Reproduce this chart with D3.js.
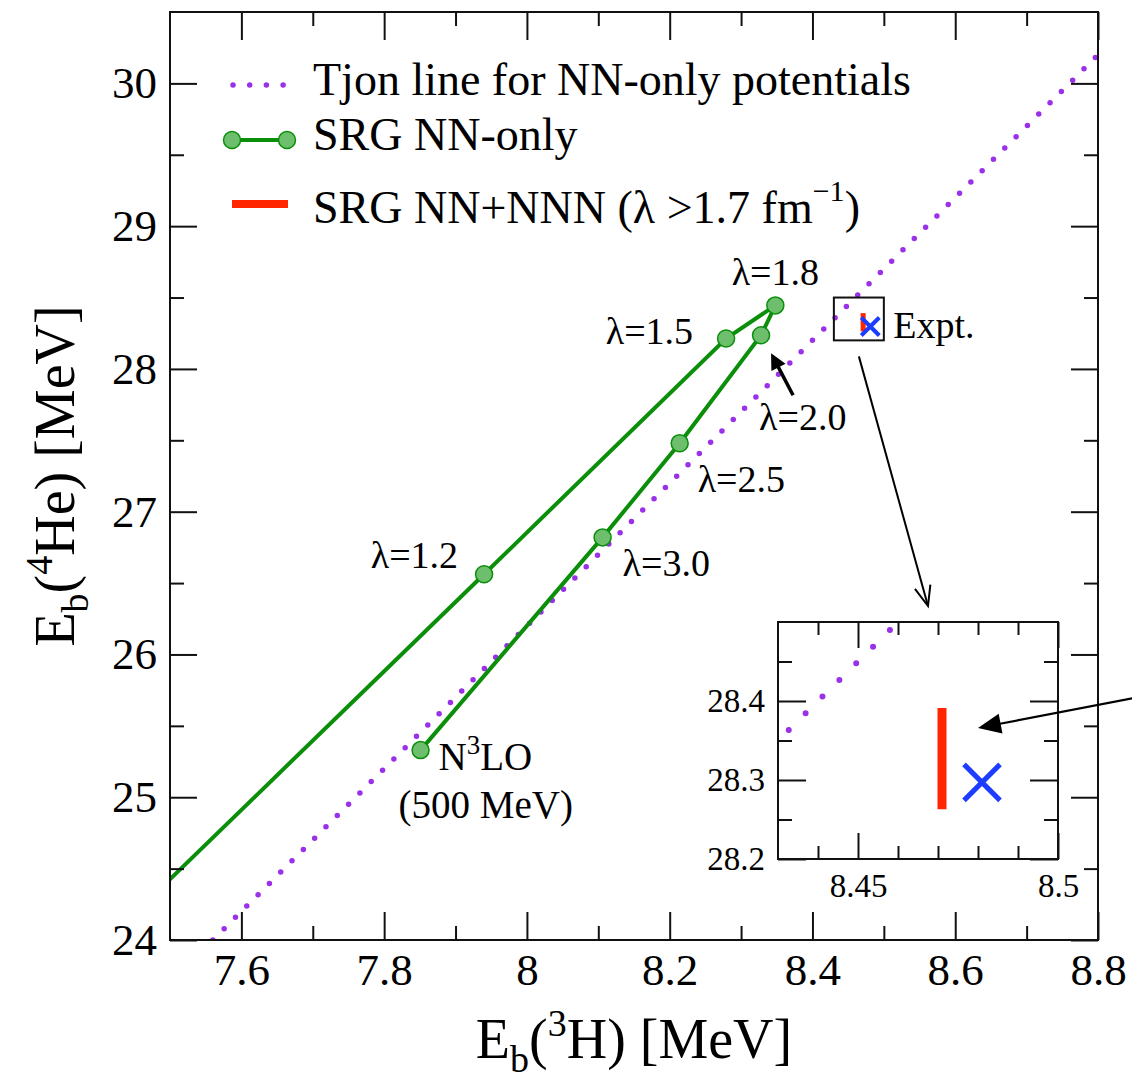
<!DOCTYPE html>
<html>
<head>
<meta charset="utf-8">
<script src="https://cdn.jsdelivr.net/npm/d3@7"></script>
<style>
  body { margin: 0; background: #fff; }
  svg { display: block; }
  text { font-family: "Liberation Serif", "Times New Roman", Times, serif; fill: #000; }
</style>
</head>
<body>
<svg id="chart" width="1132" height="1080"></svg>
<script>
// Binding energies of 3H and 4He for SRG-evolved N3LO (500 MeV) potentials.

// SRG NN-only trajectory, ordered by decreasing lambda (fm^-1)
const srgLambda = ["N3LO", "3.0", "2.5", "2.0", "1.8", "1.5", "1.2", "1.0"];
const srgEbH3   = [7.851, 8.106, 8.214, 8.328, 8.348, 8.279, 7.940, 7.400];
const srgEbHe4  = [25.330, 26.820, 27.480, 28.236, 28.445, 28.213, 26.562, 23.940];

// Tjon line for NN-only potentials
const tjonEbH3  = [7.56, 8.80];
const tjonEbHe4 = [24.00, 30.20];

// SRG NN+NNN band (lambda > 1.7 fm^-1)
const nnnEbH3 = [8.471];
const nnnEbHe4Range = [28.263, 28.391];

// Experiment
const exptEbH3  = [8.481];
const exptEbHe4 = [28.297];

// Axis ticks
const xMajorTicks = [7.6, 7.8, 8.0, 8.2, 8.4, 8.6, 8.8];
const xMinorTicks = [7.7, 7.9, 8.1, 8.3, 8.5, 8.7];
const yMajorTicks = [24, 25, 26, 27, 28, 29, 30];
const yMinorTicks = [24.5, 25.5, 26.5, 27.5, 28.5, 29.5];
const insetXMajorTicks = [8.45, 8.5];
const insetXMinorTicks = [8.44, 8.46, 8.47, 8.48, 8.49];
const insetYMajorTicks = [28.2, 28.3, 28.4];
const insetYMinorTicks = [28.25, 28.35, 28.45];

// ---- styling / layout ----
const FONT = "'Liberation Serif', 'Times New Roman', Times, serif";
const C = {
  green: "#0b8f0b", greenFill: "#6dbf6d",
  purple: "#9a30e8", red: "#ff2600", blue: "#1c3cff"
};
const svg = d3.select("#chart");
const plot = { left: 170, top: 12, right: 1098, bottom: 940 };
const inset = { left: 778, top: 622, right: 1058, bottom: 859 };

const x = d3.scaleLinear([7.5, 8.8], [plot.left, plot.right]);
const y = d3.scaleLinear([24, 30.5], [plot.bottom, plot.top]);
const xi = d3.scaleLinear([8.43, 8.5], [inset.left, inset.right]);
const yi = d3.scaleLinear([28.2, 28.5], [inset.bottom, inset.top]);

const defs = svg.append("defs");
defs.append("clipPath").attr("id", "clipMain").append("rect")
  .attr("x", plot.left).attr("y", plot.top)
  .attr("width", plot.right - plot.left).attr("height", plot.bottom - plot.top);
defs.append("clipPath").attr("id", "clipInset").append("rect")
  .attr("x", inset.left).attr("y", inset.top)
  .attr("width", inset.right - inset.left).attr("height", inset.bottom - inset.top);

function drawAxes(g, xs, ys, o) {
  const [b, t] = ys.range();
  const [l, r] = xs.range();
  const style = sel => {
    sel.select(".domain").remove();
    sel.selectAll("line").attr("stroke", "#111").attr("stroke-width", 2);
    sel.attr("font-size", o.fontSize).attr("font-family", FONT);
    sel.selectAll("text").attr("font-family", FONT).attr("fill", "#000");
  };
  // minor ticks on all four sides
  g.append("g").attr("transform", `translate(0,${b})`)
    .call(d3.axisBottom(xs).tickValues(o.xMin).tickSize(-o.xMinLen).tickFormat("")).call(style);
  g.append("g").attr("transform", `translate(0,${t})`)
    .call(d3.axisTop(xs).tickValues(o.xMin).tickSize(-o.xMinLen).tickFormat("")).call(style);
  g.append("g").attr("transform", `translate(${l},0)`)
    .call(d3.axisLeft(ys).tickValues(o.yMin).tickSize(-o.yMinLen).tickFormat("")).call(style);
  g.append("g").attr("transform", `translate(${r},0)`)
    .call(d3.axisRight(ys).tickValues(o.yMin).tickSize(-o.yMinLen).tickFormat("")).call(style);
  // major ticks with labels on bottom and left
  g.append("g").attr("transform", `translate(0,${b})`)
    .call(d3.axisBottom(xs).tickValues(o.xMaj).tickSize(-o.xMajLen).tickPadding(o.xPad).tickFormat(d => String(+d.toFixed(3))))
    .call(style);
  g.append("g").attr("transform", `translate(0,${t})`)
    .call(d3.axisTop(xs).tickValues(o.xMaj).tickSize(-o.xMajLen).tickFormat("")).call(style);
  g.append("g").attr("transform", `translate(${l},0)`)
    .call(d3.axisLeft(ys).tickValues(o.yMaj).tickSize(-o.yMajLen).tickPadding(o.yPad).tickFormat(d => String(+d.toFixed(3))))
    .call(style);
  g.append("g").attr("transform", `translate(${r},0)`)
    .call(d3.axisRight(ys).tickValues(o.yMaj).tickSize(-o.yMajLen).tickFormat("")).call(style);
  // frame
  g.append("rect").attr("x", l).attr("y", t).attr("width", r - l).attr("height", b - t)
    .attr("fill", "none").attr("stroke", "#111").attr("stroke-width", 2);
}

function arrow(g, x1, y1, x2, y2, o) {
  const a = Math.atan2(y2 - y1, x2 - x1), c = Math.cos(a), s = Math.sin(a);
  const bx = x2 - o.headLen * c, by = y2 - o.headLen * s;
  const w1 = [bx - o.headHalf * s, by + o.headHalf * c];
  const w2 = [bx + o.headHalf * s, by - o.headHalf * c];
  if (o.open) {
    g.append("line").attr("x1", x1).attr("y1", y1).attr("x2", x2).attr("y2", y2)
      .attr("stroke", "#000").attr("stroke-width", o.width);
    g.append("polyline").attr("points", [w1, [x2, y2], w2].map(p => p.join(",")).join(" "))
      .attr("fill", "none").attr("stroke", "#000").attr("stroke-width", o.width);
  } else {
    g.append("line").attr("x1", x1).attr("y1", y1).attr("x2", bx + 2 * c).attr("y2", by + 2 * s)
      .attr("stroke", "#000").attr("stroke-width", o.width);
    g.append("polygon").attr("points", [w1, [x2, y2], w2].map(p => p.join(",")).join(" "))
      .attr("fill", "#000");
  }
}

function crossPath(cx, cy, h) {
  return `M${cx - h},${cy - h}L${cx + h},${cy + h}M${cx - h},${cy + h}L${cx + h},${cy - h}`;
}

// ---------------- main panel ----------------
const main = svg.append("g");
const tjonPts = tjonEbH3.map((v, i) => [v, tjonEbHe4[i]]);
const srgPts = srgEbH3.map((v, i) => [v, srgEbHe4[i]]);

const dataLayer = main.append("g").attr("clip-path", "url(#clipMain)");
dataLayer.append("path")
  .attr("d", d3.line().x(d => x(d[0])).y(d => y(d[1]))(tjonPts))
  .attr("fill", "none").attr("stroke", C.purple).attr("stroke-width", 5.5)
  .attr("stroke-linecap", "round").attr("stroke-dasharray", "0 16");

dataLayer.append("path")
  .attr("d", d3.line().x(d => x(d[0])).y(d => y(d[1]))(srgPts))
  .attr("fill", "none").attr("stroke", C.green).attr("stroke-width", 4);
dataLayer.selectAll("circle.srg").data(srgPts).join("circle").attr("class", "srg")
  .attr("cx", d => x(d[0])).attr("cy", d => y(d[1])).attr("r", 8.5)
  .attr("fill", C.greenFill).attr("stroke", C.green).attr("stroke-width", 1.5);

// NN+NNN bar and experiment inside the small box
dataLayer.append("line")
  .attr("x1", x(nnnEbH3[0])).attr("x2", x(nnnEbH3[0]))
  .attr("y1", y(nnnEbHe4Range[0])).attr("y2", y(nnnEbHe4Range[1]))
  .attr("stroke", C.red).attr("stroke-width", 5);
dataLayer.append("path").attr("d", crossPath(x(exptEbH3[0]), y(exptEbHe4[0]), 9))
  .attr("stroke", C.blue).attr("stroke-width", 4).attr("fill", "none");

// box marking the zoomed region
main.append("rect")
  .attr("x", x(xi.domain()[0])).attr("y", y(yi.domain()[1]))
  .attr("width", x(xi.domain()[1]) - x(xi.domain()[0]))
  .attr("height", y(yi.domain()[0]) - y(yi.domain()[1]))
  .attr("fill", "none").attr("stroke", "#111").attr("stroke-width", 2);

drawAxes(main, x, y, {
  xMaj: xMajorTicks, xMin: xMinorTicks, yMaj: yMajorTicks, yMin: yMinorTicks,
  xMajLen: 28, xMinLen: 14, yMajLen: 27, yMinLen: 14, xPad: 13, yPad: 13, fontSize: 45
});

// point labels
const ann = main.append("g").attr("font-size", 38);
const labelOffsets = {
  "3.0": { dx: 20, dy: 39, anchor: "start" },
  "2.5": { dx: 18, dy: 49, anchor: "start" },
  "2.0": { dx: -2, dy: 95, anchor: "start" },
  "1.8": { dx: 0, dy: -20, anchor: "middle" },
  "1.5": { dx: -33, dy: 5, anchor: "end" },
  "1.2": { dx: -26, dy: -6, anchor: "end" }
};
srgLambda.forEach((lam, i) => {
  const o = labelOffsets[lam];
  if (!o) return;
  ann.append("text").attr("x", x(srgEbH3[i]) + o.dx).attr("y", y(srgEbHe4[i]) + o.dy)
    .attr("text-anchor", o.anchor).text("λ=" + lam);
});
{
  const i = srgLambda.indexOf("2.0");
  const px = x(srgEbH3[i]), py = y(srgEbHe4[i]);
  arrow(ann, px + 32, py + 60, px + 10, py + 18, { width: 3.5, headLen: 16, headHalf: 8 });
}
{
  const i = srgLambda.indexOf("N3LO");
  const px = x(srgEbH3[i]), py = y(srgEbHe4[i]);
  const t = ann.append("text").attr("x", px + 18).attr("y", py + 20).attr("font-size", 39);
  t.append("tspan").text("N");
  t.append("tspan").attr("dy", -16).attr("font-size", 27).text("3");
  t.append("tspan").attr("dy", 16).text("LO");
  ann.append("text").attr("x", px - 22).attr("y", py + 68).attr("font-size", 39).text("(500 MeV)");
}
ann.append("text").attr("x", x(exptEbH3[0]) + 23).attr("y", y(exptEbHe4[0]) + 11).text("Expt.");

// connector from the marked box to the inset
arrow(main, x(xi.domain()[0]) + 25, y(yi.domain()[0]) + 16, inset.left + 150, inset.top - 16,
  { width: 2, headLen: 20, headHalf: 8, open: true });

// legend
const leg = main.append("g").attr("font-size", 46);
leg.append("line").attr("x1", 233).attr("x2", 284).attr("y1", 85).attr("y2", 85)
  .attr("stroke", C.purple).attr("stroke-width", 5.5).attr("stroke-linecap", "round")
  .attr("stroke-dasharray", "0 16.7");
leg.append("text").attr("x", 313).attr("y", 95).text("Tjon line for NN-only potentials");
leg.append("line").attr("x1", 232).attr("x2", 287).attr("y1", 140).attr("y2", 140)
  .attr("stroke", C.green).attr("stroke-width", 4);
leg.selectAll("circle.lg").data([232, 287]).join("circle").attr("class", "lg")
  .attr("cx", d => d).attr("cy", 140).attr("r", 8.5)
  .attr("fill", C.greenFill).attr("stroke", C.green).attr("stroke-width", 1.5);
leg.append("text").attr("x", 313).attr("y", 150).text("SRG NN-only");
leg.append("line").attr("x1", 232).attr("x2", 288).attr("y1", 204).attr("y2", 204)
  .attr("stroke", C.red).attr("stroke-width", 8);
{
  const t = leg.append("text").attr("x", 313).attr("y", 223);
  t.append("tspan").text("SRG NN+NNN (λ >1.7 fm");
  t.append("tspan").attr("dy", -22).attr("font-size", 30).text("−1");
  t.append("tspan").attr("dy", 22).text(")");
}

// axis titles
{
  const t = svg.append("text").attr("x", (plot.left + plot.right) / 2).attr("y", 1058)
    .attr("text-anchor", "middle").attr("font-size", 56);
  t.append("tspan").text("E");
  t.append("tspan").attr("dy", 14).attr("font-size", 38).text("b");
  t.append("tspan").attr("dy", -14).text("(");
  t.append("tspan").attr("dy", -22).attr("font-size", 38).text("3");
  t.append("tspan").attr("dy", 22).text("H) [MeV]");
}
{
  const t = svg.append("text")
    .attr("transform", `translate(74,${(plot.top + plot.bottom) / 2}) rotate(-90)`)
    .attr("text-anchor", "middle").attr("font-size", 56);
  t.append("tspan").text("E");
  t.append("tspan").attr("dy", 14).attr("font-size", 38).text("b");
  t.append("tspan").attr("dy", -14).text("(");
  t.append("tspan").attr("dy", -22).attr("font-size", 38).text("4");
  t.append("tspan").attr("dy", 22).text("He) [MeV]");
}

// ---------------- inset ----------------
const ins = svg.append("g");
ins.append("rect").attr("x", inset.left).attr("y", inset.top)
  .attr("width", inset.right - inset.left).attr("height", inset.bottom - inset.top).attr("fill", "#fff");
const insData = ins.append("g").attr("clip-path", "url(#clipInset)");
insData.append("path")
  .attr("d", d3.line().x(d => xi(d[0])).y(d => yi(d[1]))(tjonPts))
  .attr("fill", "none").attr("stroke", C.purple).attr("stroke-width", 6)
  .attr("stroke-linecap", "round").attr("stroke-dasharray", "0 23.7");
insData.append("line")
  .attr("x1", xi(nnnEbH3[0])).attr("x2", xi(nnnEbH3[0]))
  .attr("y1", yi(nnnEbHe4Range[0])).attr("y2", yi(nnnEbHe4Range[1]))
  .attr("stroke", C.red).attr("stroke-width", 9);
insData.append("path").attr("d", crossPath(xi(exptEbH3[0]), yi(exptEbHe4[0]), 18))
  .attr("stroke", C.blue).attr("stroke-width", 5).attr("fill", "none");

drawAxes(ins, xi, yi, {
  xMaj: insetXMajorTicks, xMin: insetXMinorTicks, yMaj: insetYMajorTicks, yMin: insetYMinorTicks,
  xMajLen: 26, xMinLen: 13, yMajLen: 28, yMinLen: 14, xPad: 15, yPad: 13, fontSize: 33
});

// arrow pointing at the NN+NNN band
arrow(svg, 1134, 698, inset.left + 200, inset.top + 106, { width: 2.2, headLen: 23, headHalf: 10 });
</script>
</body>
</html>
